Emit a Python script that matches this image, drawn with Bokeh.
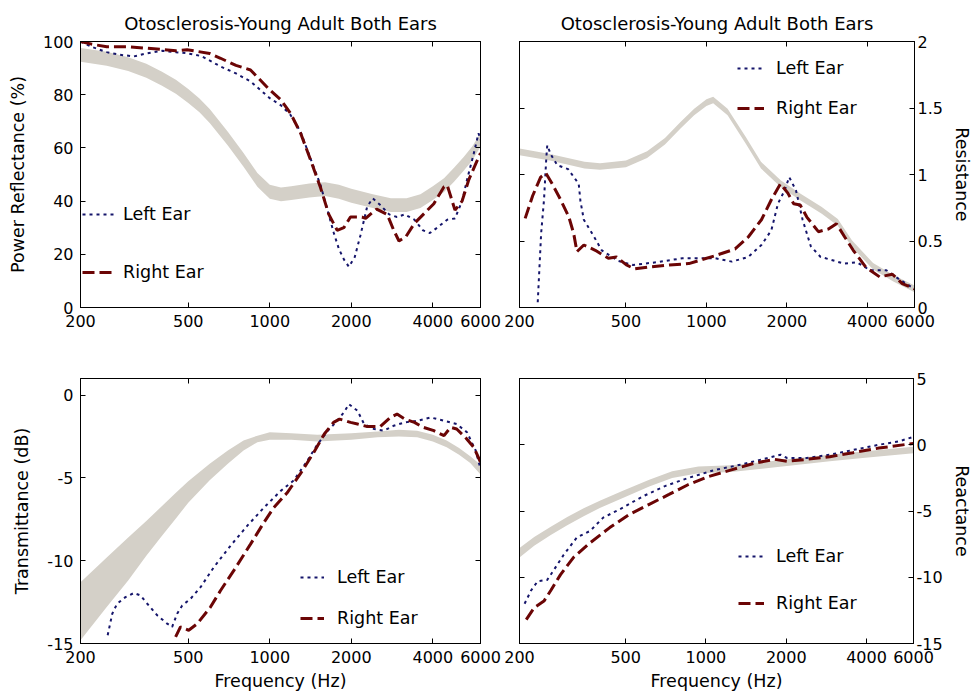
from bokeh.plotting import figure
from bokeh.models import (Range1d, FixedTicker, PrintfTickFormatter, LinearAxis,
                          LogAxis, Legend, LegendItem)
from bokeh.layouts import column, row
from bokeh.embed import file_html
from bokeh.resources import INLINE

# ---------------- data ----------------
TITLE = "Otosclerosis-Young Adult Both Ears"
X_TICKS = [200, 500, 1000, 2000, 4000, 6000]

# Power reflectance (%)
pr_band_f = [200, 250, 300, 350, 400, 450, 500, 550, 600, 700, 800, 900, 1000, 1100, 1200,
             1400, 1600, 1800, 2000, 2400, 2800, 3200, 3600, 4000, 4400, 4800, 5200, 5600, 6000]
pr_band_hi = [97.6, 96.1, 94.1, 91.6, 88.6, 85.6, 82.1, 78.6, 74.6, 66.1, 58.1, 50.6, 46.1, 45.1, 45.6,
              46.6, 47.1, 46.1, 44.6, 42.6, 41.1, 41.1, 42.6, 45.6, 48.6, 52.6, 56.6, 60.6, 65.6]
pr_band_lo = [92.4, 90.9, 88.9, 86.4, 83.4, 80.4, 76.9, 73.4, 69.4, 60.9, 52.9, 45.4, 40.9, 39.9, 40.4,
              41.4, 41.9, 40.9, 39.4, 37.4, 35.9, 35.9, 37.4, 40.4, 43.4, 47.4, 51.4, 55.4, 60.4]
pr_left_f = [200, 220, 250, 280, 315, 350, 400, 450, 495, 560, 658, 750, 849, 1000, 1100, 1193, 1300,
             1414, 1540, 1650, 1724, 1800, 1880, 1960, 2060, 2160, 2290, 2400, 2560, 2760, 2950, 3150,
             3420, 3680, 3900, 4150, 4520, 4830, 5130, 5350, 5670, 5900, 6000]
pr_left_v = [100, 98, 96, 95, 94.4, 95.5, 96.5, 96, 95.6, 94.5, 90.6, 88, 85, 78.7, 76, 72.4, 66,
             56, 46, 35, 28, 22, 18, 15.3, 19, 27, 38, 41, 38.5, 35, 34, 35,
             33, 29, 28, 30, 33, 33.5, 40, 48, 58, 65.5, 63]
pr_right_f = [200, 220, 250, 300, 350, 400, 450, 495, 600, 658, 750, 849, 1000, 1100, 1193, 1300, 1414,
              1540, 1652, 1774, 1877, 1986, 2190, 2260, 2350, 2480, 2714, 2870, 3000, 3180, 3420, 3690,
              4035, 4400, 4520, 4650, 4830, 5130, 5430, 5760, 6000]
pr_right_v = [100, 99, 98, 98, 97.5, 97, 96.5, 96.9, 95.5, 93.7, 91, 89.3, 81.8, 78, 73, 65.5, 55.5,
              45, 35, 29, 30, 34, 34, 33.5, 35, 37, 35, 29, 25, 26.6, 31.6, 35,
              39, 45.4, 46, 42, 36.6, 40, 48, 54, 58]

# Resistance
rs_band_f = [200, 260, 350, 400, 500, 600, 700, 800, 900, 1000, 1060, 1200, 1400, 1600, 1900, 2250,
             2700, 3100, 3500, 4200, 5000, 6000]
rs_band_hi = [1.195, 1.155, 1.095, 1.085, 1.105, 1.175, 1.275, 1.395, 1.495, 1.565, 1.585, 1.495, 1.285,
              1.095, 0.955, 0.855, 0.755, 0.665, 0.505, 0.335, 0.245, 0.165]
rs_band_lo = [1.145, 1.105, 1.045, 1.035, 1.055, 1.125, 1.225, 1.345, 1.445, 1.515, 1.535, 1.445, 1.235,
              1.045, 0.905, 0.805, 0.705, 0.615, 0.455, 0.285, 0.195, 0.115]
rs_left_f = [234, 241, 247, 252, 254, 262, 277, 304, 333, 338, 348, 378, 406, 468, 532, 648, 813, 1080,
             1245, 1434, 1606, 1749, 1851, 1960, 2040, 2163, 2289, 2457, 2674, 2912, 3263, 3654, 4093,
             4710, 5280, 6000]
rs_left_v = [0.04, 0.56, 0.81, 1.13, 1.22, 1.15, 1.07, 1.04, 0.93, 0.80, 0.66, 0.54, 0.43, 0.35, 0.32,
             0.34, 0.37, 0.37, 0.345, 0.38, 0.47, 0.58, 0.78, 0.88, 0.98, 0.88, 0.66, 0.46, 0.38, 0.36,
             0.33, 0.34, 0.28, 0.28, 0.21, 0.14]
rs_right_f = [210, 224, 240, 251, 265, 285, 306, 319, 328, 348, 384, 430, 461, 502, 539, 613, 727, 860,
              1080, 1280, 1434, 1606, 1749, 1892, 2016, 2120, 2243, 2374, 2623, 2860, 3064, 3290, 3540,
              3957, 4445, 4960, 5400, 6000]
rs_right_v = [0.67, 0.84, 0.98, 1.01, 0.93, 0.81, 0.68, 0.555, 0.42, 0.47, 0.43, 0.37, 0.38, 0.32, 0.29,
              0.305, 0.32, 0.33, 0.39, 0.44, 0.53, 0.66, 0.81, 0.93, 0.86, 0.78, 0.77, 0.68, 0.57, 0.59,
              0.63, 0.53, 0.43, 0.30, 0.23, 0.25, 0.18, 0.14]

# Transmittance (dB)
tr_band_f = [200, 250, 300, 350, 400, 450, 500, 600, 700, 800, 900, 1000, 1200, 1500, 2000, 2500, 3000,
             3500, 4000, 4500, 5000, 5500, 6000]
tr_band_hi = [-11.3, -9.8, -8.6, -7.6, -6.7, -5.9, -5.2, -4.15, -3.35, -2.75, -2.45, -2.25, -2.3, -2.4,
              -2.3, -2.2, -2.1, -2.15, -2.4, -2.75, -3.2, -3.7, -4.2]
tr_band_lo = [-14.8, -12.8, -11.2, -9.7, -8.5, -7.45, -6.5, -5.15, -4.15, -3.35, -2.85, -2.7, -2.7, -2.8,
              -2.7, -2.55, -2.5, -2.55, -2.8, -3.15, -3.6, -4.1, -4.8]
tr_left_f = [252, 262, 273, 293, 315, 333, 353, 384, 418, 436, 455, 475, 510, 555, 621, 716, 825, 951,
             1095, 1227, 1371, 1497, 1640, 1774, 1877, 1960, 2108, 2230, 2430, 2640, 2868, 3150, 3530,
             3920, 4400, 4900, 5350, 5760, 6000]
tr_left_v = [-14.5, -13.2, -12.6, -12.2, -11.95, -12.1, -12.6, -13.3, -13.8, -14.0, -13.2, -12.7, -12.3,
             -11.6, -10.4, -9.1, -7.9, -6.8, -5.8, -5.15, -4.0, -3.0, -2.15, -1.55, -1.05, -0.55, -0.95,
             -1.75, -2.05, -2.15, -1.85, -1.65, -1.55, -1.35, -1.55, -1.75, -2.25, -3.35, -4.45]
tr_right_f = [449, 468, 502, 540, 604, 658, 736, 849, 951, 1034, 1159, 1298, 1455, 1590, 1720, 1810, 1900,
              1986, 2108, 2290, 2560, 2790, 2950, 3150, 3420, 3690, 4035, 4400, 4650, 4900, 5270, 5666,
              6000]
tr_right_v = [-14.6, -14.0, -14.2, -13.8, -12.8, -11.8, -10.6, -9.0, -7.7, -6.8, -5.9, -4.75, -3.45,
              -2.35, -1.65, -1.45, -1.55, -1.65, -1.75, -1.9, -1.9, -1.35, -1.15, -1.45, -1.65, -1.95,
              -2.15, -2.45, -1.95, -2.05, -2.55, -3.15, -4.05]

# Reactance
rx_band_f = [200, 227, 262, 302, 348, 400, 488, 613, 747, 937, 1245, 1652, 2218, 2912, 3870, 6000]
rx_band_hi = [-7.8, -6.97, -6.18, -5.45, -4.8, -4.22, -3.48, -2.64, -2.0, -1.65, -1.55, -1.3, -1.0,
              -0.75, -0.5, -0.15]
rx_band_lo = [-8.5, -7.63, -6.82, -6.07, -5.4, -4.78, -4.02, -3.16, -2.5, -2.15, -2.05, -1.8, -1.5,
              -1.25, -1.0, -0.65]
rx_left_f = [209, 221, 234, 254, 268, 293, 328, 368, 412, 488, 579, 706, 860, 1080, 1355, 1700, 1904,
             2016, 2388, 2912, 3553, 4455, 5280, 6000]
rx_left_v = [-12.0, -11.0, -10.3, -10.2, -9.5, -8.3, -7.0, -6.5, -5.5, -4.75, -3.9, -3.1, -2.5, -1.9,
             -1.5, -1.0, -0.75, -1.0, -1.0, -0.75, -0.4, 0.0, 0.25, 0.6]
rx_right_f = [212, 227, 247, 262, 285, 319, 368, 436, 517, 613, 727, 860, 1021, 1245, 1517, 1808, 2016,
              2388, 2912, 3553, 4455, 6000]
rx_right_v = [-13.2, -12.3, -11.8, -11.0, -9.8, -8.5, -7.4, -6.25, -5.25, -4.5, -3.75, -3.0, -2.4, -1.9,
              -1.4, -1.1, -1.25, -1.1, -0.9, -0.6, -0.25, 0.1]

# ---------------- styling ----------------
FONT = "DejaVu Sans"
BAND_C = "#d4d0c8"
LEFT_C = "#15156b"
RIGHT_C = "#6b0505"


def panel(width, height, borders, yrange, yticks, band, left, right, legend_cfg,
          ylabel, right_side, title=None, xlabel=None):
    bl, br, bt, bb = borders
    p = figure(width=width, height=height, x_axis_type="log",
               x_range=Range1d(200, 6000), y_range=Range1d(*yrange),
               y_axis_location="right" if right_side else "left",
               output_backend="svg", toolbar_location=None,
               min_border_left=bl, min_border_right=br,
               min_border_top=bt, min_border_bottom=bb)
    p.outline_line_color = "black"
    p.xgrid.visible = False
    p.ygrid.visible = False
    p.background_fill_color = "white"
    p.border_fill_color = "white"
    if title:
        p.title.text = title
        p.title.align = "center"
        p.title.text_font = FONT
        p.title.text_font_size = "18px"
        p.title.text_font_style = "normal"
        p.title.text_color = "black"
        p.title.standoff = 15

    xa = p.xaxis[0]
    xa.ticker = FixedTicker(ticks=X_TICKS)
    xa.formatter = PrintfTickFormatter(format="%d")
    ya = p.yaxis[0]
    ya.ticker = FixedTicker(ticks=yticks)
    ya.formatter = PrintfTickFormatter(format="%g")
    for ax in (xa, ya):
        ax.major_tick_in = 5
        ax.major_tick_out = 0
        ax.minor_tick_line_color = None
        ax.axis_line_color = "black"
        ax.major_tick_line_color = "black"
        ax.major_label_text_font = FONT
        ax.major_label_text_font_size = "16px"
        ax.major_label_text_color = "black"
        ax.axis_label_text_font = FONT
        ax.axis_label_text_font_size = "17.5px"
        ax.axis_label_text_font_style = "normal"
        ax.axis_label_text_color = "black"
    xa.major_label_standoff = 7
    xa.axis_label_standoff = 5
    if xlabel:
        xa.axis_label = xlabel
    ya.axis_label = ylabel
    if right_side:
        ya.major_label_standoff = 3
        ya.axis_label_standoff = 6
    else:
        ya.major_label_standoff = 7
        ya.axis_label_standoff = 12

    # mirrored tick marks (box style), no labels drawn
    top = LogAxis(ticker=FixedTicker(ticks=X_TICKS), major_label_text_font_size="1px",
                  major_label_text_color=None, major_label_text_alpha=0,
                  major_tick_in=5, major_tick_out=0, minor_tick_line_color=None,
                  major_label_standoff=0, axis_line_color="black")
    p.add_layout(top, "above")
    side = LinearAxis(ticker=FixedTicker(ticks=yticks), major_label_text_font_size="1px",
                      major_label_text_color=None, major_label_text_alpha=0,
                      major_tick_in=5, major_tick_out=0, minor_tick_line_color=None,
                      major_label_standoff=0, axis_line_color="black")
    p.add_layout(side, "left" if right_side else "right")

    bf, bhi, blo = band
    p.varea(x=bf, y1=blo, y2=bhi, fill_color=BAND_C, fill_alpha=1.0)
    rl = p.line(left[0], left[1], line_color=LEFT_C, line_width=2, line_dash="3 4")
    rr = p.line(right[0], right[1], line_color=RIGHT_C, line_width=3, line_dash="12 5")

    lx, ly, gw, stand, spacing = legend_cfg
    leg = Legend(items=[LegendItem(label="Left Ear", renderers=[rl]),
                        LegendItem(label="Right Ear", renderers=[rr])],
                 location=(lx, ly), glyph_width=gw, glyph_height=20, label_height=20,
                 label_standoff=stand, spacing=spacing, padding=0, margin=0,
                 border_line_color=None, background_fill_alpha=0,
                 label_text_font=FONT, label_text_font_size="17.5px", label_text_color="black")
    p.add_layout(leg)
    return p


LW, RW = 501, 473
TH, BH = 340, 358

p1 = panel(LW, TH, (80, 21, 41, 33), (0, 100), [0, 20, 40, 60, 80, 100],
           (pr_band_f, pr_band_hi, pr_band_lo), (pr_left_f, pr_left_v), (pr_right_f, pr_right_v),
           (2, 25, 34, 7, 38), "Power Reflectance (%)", False, title=TITLE)
p2 = panel(RW, TH, (18, 55, 41, 33), (0, 2), [0, 0.5, 1, 1.5, 2],
           (rs_band_f, rs_band_hi, rs_band_lo), (rs_left_f, rs_left_v), (rs_right_f, rs_right_v),
           (218, 189, 27, 12, 20), "Resistance", True, title=TITLE)
p3 = panel(LW, BH, (80, 21, 38, 55), (-15, 1), [-15, -10, -5, 0],
           (tr_band_f, tr_band_hi, tr_band_lo), (tr_left_f, tr_left_v), (tr_right_f, tr_right_v),
           (220, 15, 24, 13, 21), "Transmittance (dB)", False, xlabel="Frequency (Hz)")
p4 = panel(RW, BH, (18, 55, 38, 55), (-15, 5), [-15, -10, -5, 0, 5],
           (rx_band_f, rx_band_hi, rx_band_lo), (rx_left_f, rx_left_v), (rx_right_f, rx_right_v),
           (219, 30, 26, 12, 27), "Reactance", True, xlabel="Frequency (Hz)")

layout = column(row(p1, p2), row(p3, p4))
open("out.html", "w").write(file_html(layout, INLINE))
